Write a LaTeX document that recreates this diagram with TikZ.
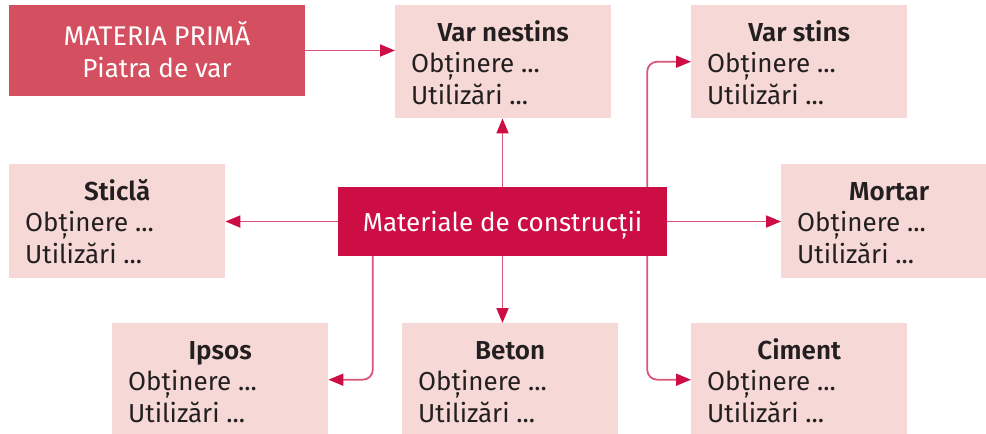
\documentclass[tikz,border=0pt]{standalone}
\usepackage{fontspec}
\setmainfont{Fira Sans}[BoldFont={Fira Sans SemiBold}]
\usetikzlibrary{arrows.meta}
\definecolor{pale}{HTML}{F6D9D6}
\definecolor{rosebox}{HTML}{D45060}
\definecolor{crimson}{HTML}{CC0E45}
\definecolor{linecol}{HTML}{D9557A}
\definecolor{txt}{HTML}{231F20}
\tikzset{
  palebox/.style={fill=pale, draw=none, anchor=north west, minimum width=216pt, inner sep=0pt},
  ttl/.style={text=txt, font=\fontsize{26}{30}\selectfont\bfseries, anchor=base, inner sep=0pt},
  itm/.style={text=txt, font=\fontsize{26}{30}\selectfont, anchor=base west, inner sep=0pt},
  wtxt/.style={text=white, font=\fontsize{26}{30}\selectfont, anchor=base, inner sep=0pt},
  conn/.style={draw=linecol, line width=1.8pt, rounded corners=10pt, -{Triangle[length=15pt,width=12pt,color=crimson]}},
}
\newcommand\matbox[5]{%
  \node[palebox, minimum height=#5pt] (#1) at (#2,#3) {};
  \node[ttl] (#1t) at ([yshift=-36pt,xshift=0pt]#1.north) {#4};
  \node[itm] (#1a) at ([yshift=-67pt,xshift=16pt]#1.north west) {Obținere ...};
  \node[itm] (#1b) at ([yshift=-99pt,xshift=16pt]#1.north west) {Utilizări ...};
}
\begin{document}
\begin{tikzpicture}[x=1pt,y=-1pt]
\useasboundingbox (0,0) rectangle (986,434);
\node[fill=rosebox, minimum width=296pt, minimum height=91pt, inner sep=0pt] (materia) at (157,50.5) {};
\node[wtxt, font=\fontsize{27}{30}\selectfont] (m1) at (157,45) {MATERIA PRIMĂ};
\node[wtxt] (m2) at (157,77) {Piatra de var};
\matbox{nestins}{395}{5}{Var nestins}{113}
\matbox{stins}{691}{5}{Var stins}{113}
\matbox{sticla}{9}{164}{Sticlă}{114}
\matbox{mortar}{781}{164}{Mortar}{114}
\matbox{ipsos}{112}{323}{Ipsos}{113}
\matbox{beton}{402}{323}{Beton}{113}
\matbox{ciment}{691}{323}{Ciment}{113}
\node[fill=crimson, minimum width=329pt, minimum height=69pt, inner sep=0pt] (central) at (502.5,221.5) {};
\node[wtxt] (ct) at (502.5,231) {Materiale de construcții};
\draw[conn] (materia.east) -- (nestins.west |- materia.east);
\draw[conn] (central.north) -- (central.north |- nestins.south);
\draw[conn] ([xshift=-20pt]central.north east) |- (stins.west);
\draw[conn] (central.west) -- (sticla.east |- central.west);
\draw[conn] (central.east) -- (mortar.west |- central.east);
\draw[conn] ([xshift=35pt]central.south west) |- (ipsos.east);
\draw[conn] (central.south) -- (central.south |- beton.north);
\draw[conn] ([xshift=-20pt]central.south east) |- (ciment.west);
\end{tikzpicture}
\end{document}
